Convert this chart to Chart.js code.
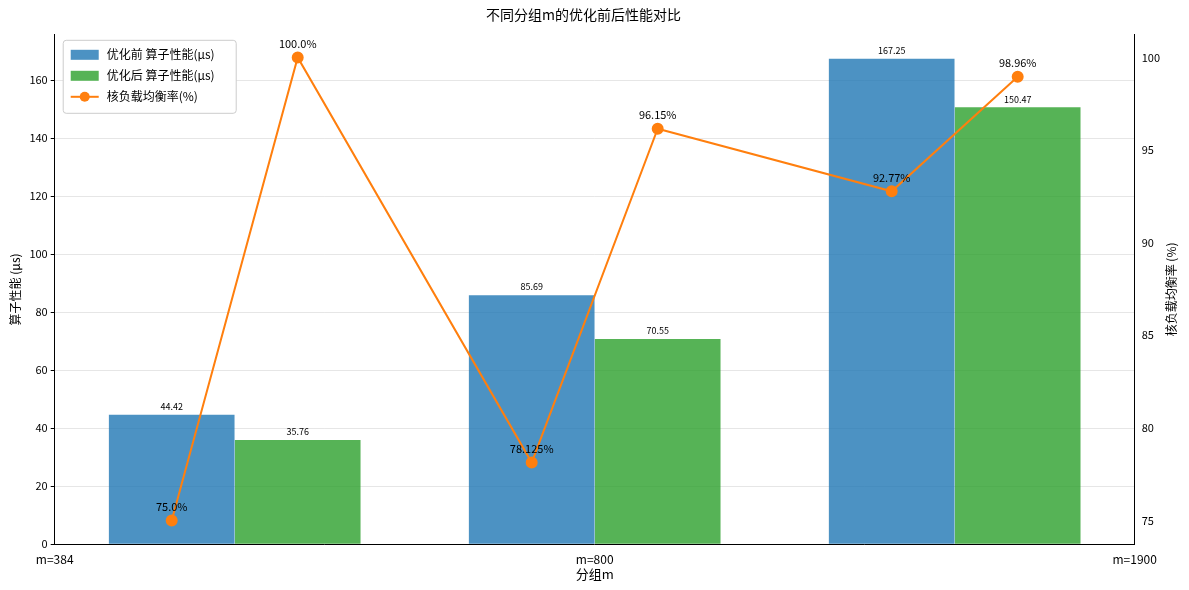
<!DOCTYPE html>
<html>
<head>
<meta charset="utf-8">
<script src="https://cdn.jsdelivr.net/npm/chart.js@4"></script>
<style>
  body { margin: 0; background: #fff; }
  #wrap { width: 1189px; height: 590px; }
</style>
</head>
<body>
<div id="wrap"><canvas id="perfChart"></canvas></div>
<script>
const groups = ["m=384", "m=800", "m=1900"]
const beforeX = [-0.175, 0.825, 1.825]
const afterX = [0.175, 1.175, 2.175]
const beforePerf = [44.42, 85.69, 167.25]
const afterPerf = [35.76, 70.55, 150.47]
// load balance: before / after for each group, placed at bar centres
const balanceX = [-0.175, 0.175, 0.825, 1.175, 1.825, 2.175]
const balanceVals = [75.0, 100.0, 78.125, 96.15, 92.77, 98.96]
const balanceText = ["75.0%", "100.0%", "78.125%", "96.15%", "92.77%", "98.96%"]
const leftTicks = [0, 20, 40, 60, 80, 100, 120, 140, 160]
const rightTicks = [75, 80, 85, 90, 95, 100]

const FONT = "'Noto Sans CJK SC', 'DejaVu Sans', sans-serif"
Chart.defaults.font.family = FONT
Chart.defaults.color = "#000"

const blue = "rgba(31,119,180,0.8)"
const green = "rgba(44,160,44,0.8)"
const orange = "#ff7f0e"

// value labels + legend box + right axis title
const labelPlugin = {
  id: "labels",
  afterDatasetsDraw(chart) {
    const ctx = chart.ctx
    ctx.save()
    ctx.textAlign = "center"
    ctx.textBaseline = "bottom"
    ctx.fillStyle = "#000"
    ctx.font = "9px " + FONT
    ;[0, 1].forEach(d => {
      const vals = chart.data.datasets[d].data
      chart.getDatasetMeta(d).data.forEach((bar, i) => {
        ctx.fillText(vals[i].y.toFixed(2), bar.x, bar.y - 4)
      })
    })
    ctx.font = "11px " + FONT
    chart.getDatasetMeta(2).data.forEach((pt, i) => {
      ctx.fillText(balanceText[i], pt.x, pt.y - 8)
    })

    const a = chart.chartArea
    // right axis title, reading bottom to top
    ctx.save()
    ctx.font = "12px " + FONT
    ctx.textBaseline = "middle"
    ctx.translate(1171, (a.top + a.bottom) / 2)
    ctx.rotate(-Math.PI / 2)
    ctx.fillText("核负载均衡率 (%)", 0, 0)
    ctx.restore()

    // legend
    const lx = a.left + 8, ly = a.top + 5
    ctx.fillStyle = "#fff"
    ctx.strokeStyle = "#ccc"
    ctx.lineWidth = 1
    ctx.beginPath()
    ctx.roundRect(lx + 0.5, ly + 0.5, 173, 73, 3)
    ctx.fill()
    ctx.stroke()
    ctx.font = "12px " + FONT
    ctx.textAlign = "left"
    ctx.textBaseline = "middle"
    const items = [
      { t: "优化前 算子性能(μs)", c: blue, type: "box" },
      { t: "优化后 算子性能(μs)", c: green, type: "box" },
      { t: "核负载均衡率(%)", c: orange, type: "line" }
    ]
    items.forEach((it, i) => {
      const y = ly + 15 + i * 21
      if (it.type === "box") {
        ctx.fillStyle = it.c
        ctx.fillRect(lx + 8, y - 5, 28, 10)
      } else {
        ctx.strokeStyle = it.c
        ctx.lineWidth = 2
        ctx.beginPath()
        ctx.moveTo(lx + 8, y); ctx.lineTo(lx + 36, y); ctx.stroke()
        ctx.fillStyle = it.c
        ctx.beginPath(); ctx.arc(lx + 22, y, 5, 0, Math.PI * 2); ctx.fill()
      }
      ctx.fillStyle = "#000"
      ctx.fillText(it.t, lx + 44, y)
    })
    ctx.restore()
  }
}

new Chart(document.querySelector("#perfChart"), {
  data: {
    labels: groups,
    datasets: [
      { type: "bar", label: "优化前 算子性能(μs)", data: beforeX.map((x, i) => ({ x: x, y: beforePerf[i] })),
        backgroundColor: blue, grouped: false, barThickness: 125, xAxisID: "xLine", yAxisID: "y", order: 2 },
      { type: "bar", label: "优化后 算子性能(μs)", data: afterX.map((x, i) => ({ x: x, y: afterPerf[i] })),
        backgroundColor: green, grouped: false, barThickness: 125, xAxisID: "xLine", yAxisID: "y", order: 2 },
      { type: "line", label: "核负载均衡率(%)",
        data: balanceX.map((x, i) => ({ x: x, y: balanceVals[i] })),
        xAxisID: "xLine", yAxisID: "y1", borderColor: orange, backgroundColor: orange,
        borderWidth: 2, pointRadius: 5, pointHoverRadius: 5, order: 1 }
    ]
  },
  options: {
    responsive: true,
    maintainAspectRatio: false,
    animation: false,
    layout: { padding: { left: 4, right: 26, top: 0, bottom: 8 } },
    plugins: {
      legend: { display: false },
      tooltip: { enabled: false },
      title: { display: true, text: "不同分组m的优化前后性能对比", font: { size: 14, weight: "normal" }, color: "#000",
        padding: { top: 6, bottom: 12 } }
    },
    scales: {
      x: {
        type: "category",
        grid: { display: false },
        border: { color: "#000" },
        ticks: { font: { size: 12 }, padding: 0 },
        title: { display: true, text: "分组m", font: { size: 13 }, padding: 0 }
      },
      xLine: { type: "linear", display: false, min: -0.5, max: 2.5, offset: false },
      y: {
        position: "left", min: 0, max: 175.6,
        afterBuildTicks: s => { s.ticks = leftTicks.map(v => ({ value: v })) },
        ticks: { font: { size: 11 } },
        grid: { color: "#e6e6e6", tickColor: "#000", tickLength: 4 },
        border: { color: "#000" },
        title: { display: true, text: "算子性能 (μs)", font: { size: 12 } }
      },
      y1: {
        position: "right", min: 73.73, max: 101.22,
        afterBuildTicks: s => { s.ticks = rightTicks.map(v => ({ value: v })) },
        ticks: { font: { size: 11 } },
        grid: { display: false, tickColor: "#000", tickLength: 4 },
        border: { color: "#000" }
      }
    }
  },
  plugins: [labelPlugin]
})
</script>
</body>
</html>
